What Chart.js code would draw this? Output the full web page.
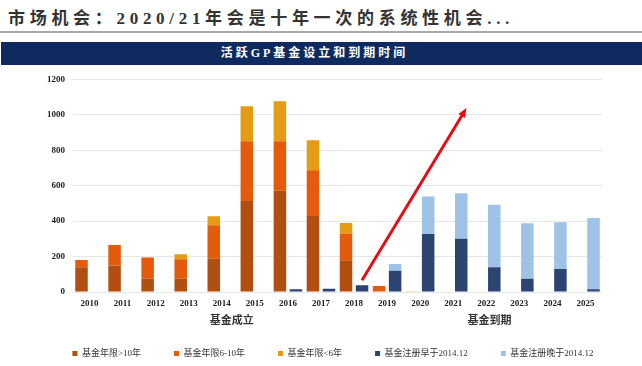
<!DOCTYPE html>
<html>
<head>
<meta charset="utf-8">
<script src="https://cdn.jsdelivr.net/npm/chart.js@4.4.0/dist/chart.umd.min.js"></script>
<style>
  html, body { margin: 0; padding: 0; background: #fff; overflow: hidden; }
  body { width: 642px; height: 366px; position: relative; font-family: "Liberation Serif", "Noto Sans CJK SC", serif; }
  #title { position: absolute; left: 8px; top: 9px; font-size: 17px; font-weight: bold; color: #333; letter-spacing: 4.7px; white-space: nowrap; line-height: 20px; }
  #rule { position: absolute; left: 0; top: 31px; width: 642px; height: 2px; background: #a9a9a9; }
  #banner { position: absolute; left: 1px; top: 42px; width: 641px; height: 23px; background: #0e2a5f; color: #fff; font-size: 12px; font-weight: bold; letter-spacing: 3px; line-height: 23px; text-align: center; box-sizing: border-box; padding-right: 14px; }
  #wrap { position: absolute; left: 0; top: 66px; width: 642px; height: 300px; }
</style>
</head>
<body>
<div id="title">市场机会：2020/21年会是十年一次的系统性机会...</div>
<div id="rule"></div>
<div id="banner">活跃GP基金设立和到期时间</div>
<div id="wrap"><canvas id="canvas" width="642" height="300"></canvas></div>
<script>
// years on the axis
var anos = ['2010','2011','2012','2013','2014','2015','2016','2017','2018','2019','2020','2021','2022','2023','2024','2025'];

// fund set-up (stack a)
var maisDe10 = [140, 150, 75, 75, 188, 514, 571, 429, 179, 0, 0, 0, 0, 0, 0, 0];
var de6a10   = [40, 115, 120, 110, 189, 337, 280, 258, 151, 34, 0, 0, 0, 0, 0, 0];
var menos6   = [0, 0, 0, 28, 50, 198, 226, 170, 60, 0, 4, 0, 0, 0, 0, 0];

// fund expiry (stack b)
var antes2014 = [0, 0, 0, 3, 0, 3, 15, 19, 38, 120, 328, 301, 139, 75, 130, 15];
var depois2014 = [0, 0, 0, 0, 0, 0, 0, 0, 0, 38, 211, 256, 353, 313, 264, 403];

var nomes = ['基金年限>10年', '基金年限6-10年', '基金年限<6年', '基金注册早于2014.12', '基金注册晚于2014.12'];
var cores = ['#b24e10', '#e35b0b', '#e39c14', '#2b4572', '#9fc3e6'];

var grupos = [{texto: '基金成立', pos: 4.3}, {texto: '基金到期', pos: 12.1}];
var seta = {de: [8.24, 66], ate: [11.4, 1038]};

var fonte = '"Liberation Serif", "Noto Sans CJK SC", serif';

var extras = {
  id: 'extras',
  beforeInit: function(chart) {
    var lg = chart.legend;
    if (lg && !lg._patched) {
      var fit = lg.fit, draw = lg.draw;
      lg.fit = function() {
        this.maxWidth = 700;
        fit.call(this);
        this.height = 50;
      };
      lg.draw = function() {
        this.ctx.save();
        this.ctx.translate(32, 0);
        draw.call(this);
        this.ctx.restore();
      };
      lg._patched = true;
    }
  },
  afterDraw: function(chart) {
    var ctx = chart.ctx;
    var x = chart.scales.x, y = chart.scales.y;
    ctx.save();
    // group captions
    ctx.font = 'bold 11px ' + fonte;
    ctx.fillStyle = '#333';
    ctx.textAlign = 'center';
    ctx.textBaseline = 'middle';
    grupos.forEach(function(g) {
      ctx.fillText(g.texto, x.getPixelForValue(g.pos), x.bottom + 5);
    });
    // red arrow
    var x1 = x.getPixelForValue(seta.de[0]), y1 = y.getPixelForValue(seta.de[1]);
    var x2 = x.getPixelForValue(seta.ate[0]), y2 = y.getPixelForValue(seta.ate[1]);
    var ang = Math.atan2(y2 - y1, x2 - x1);
    var head = 10;
    ctx.strokeStyle = '#e01018';
    ctx.fillStyle = '#e01018';
    ctx.lineWidth = 3;
    ctx.beginPath();
    ctx.moveTo(x1, y1);
    ctx.lineTo(x2 - Math.cos(ang) * head * 0.8, y2 - Math.sin(ang) * head * 0.8);
    ctx.stroke();
    ctx.beginPath();
    ctx.moveTo(x2, y2);
    ctx.lineTo(x2 - head * Math.cos(ang - 0.4), y2 - head * Math.sin(ang - 0.4));
    ctx.lineTo(x2 - head * Math.cos(ang + 0.4), y2 - head * Math.sin(ang + 0.4));
    ctx.closePath();
    ctx.fill();
    ctx.restore();
  }
};

var series = [maisDe10, de6a10, menos6, antes2014, depois2014];
var pilhas = ['a', 'a', 'a', 'b', 'b'];

var data = {
  labels: anos,
  datasets: series.map(function(s, i) {
    return {
      label: nomes[i],
      data: s,
      stack: pilhas[i],
      backgroundColor: cores[i],
      borderWidth: 0,
      categoryPercentage: 0.97,
      barPercentage: 0.78
    };
  })
};

var ctx = document.getElementById('canvas');
window.myBar = new Chart(ctx, {
  type: 'bar',
  data: data,
  plugins: [extras],
  options: {
    responsive: false,
    animation: false,
    layout: { padding: { top: 13, right: 40, left: 0, bottom: 0 } },
    plugins: {
      tooltip: { enabled: false },
      legend: {
        position: 'bottom',
        labels: {
          boxWidth: 5,
          boxHeight: 5,
          padding: 33,
          color: '#333',
          font: { family: fonte, size: 9 }
        }
      }
    },
    scales: {
      x: {
        stacked: true,
        grid: { display: false, drawTicks: false },
        border: { display: false },
        ticks: { color: '#222', padding: 6, font: { family: fonte, size: 9, weight: 'bold' }, maxRotation: 0, autoSkip: false },
        afterFit: function(s) { s.height = 24; }
      },
      y: {
        stacked: true,
        min: 0,
        max: 1200,
        grid: { color: '#e6e6e6', drawTicks: false, lineWidth: 1 },
        border: { display: false },
        ticks: {
          stepSize: 200, color: '#222', padding: 8,
          font: { family: fonte, size: 9, weight: 'bold' },
          callback: function(v) { return String(v); }
        },
        afterFit: function(s) { s.width = 73; }
      }
    }
  }
});
</script>
</body>
</html>
